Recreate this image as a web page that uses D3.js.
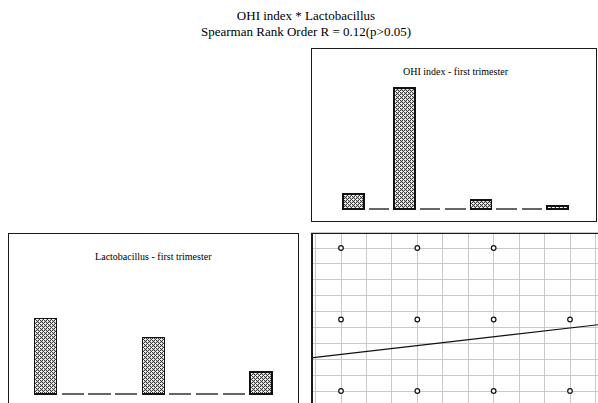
<!DOCTYPE html>
<html>
<head>
<meta charset="utf-8">
<script src="https://cdn.jsdelivr.net/npm/d3@7"></script>
<style>
body { margin: 0; background: #fff; }
text { font-family: "Liberation Serif", "Times New Roman", serif; fill: #000; }
</style>
</head>
<body>
<div id="chart"></div>
<script>
// histogram bins (9 per variable) and their counts
const bins = [1, 2, 3, 4, 5, 6, 7, 8, 9];
const ohiCounts = [5, 0, 40, 0, 0, 3, 0, 0, 1];
const lactoCounts = [24, 0, 0, 0, 18, 0, 0, 0, 7];

// scatter points: OHI index (x) vs Lactobacillus level (y)
const ohiVals   = [3, 6, 9, 3, 6, 9, 12, 3, 6, 9, 12];
const lactoVals = [4, 4, 4, 2.5, 2.5, 2.5, 2.5, 1, 1, 1, 1];

// linear fit drawn on the scatter
const fitSlope = 0.0617;
const fitIntercept = 1.582;

// grid ticks of the scatter
const xGrid = d3.range(1, 15);
const yGrid = d3.range(0, 16).map(k => k / 3);

const titles = ["OHI index * Lactobacillus", "Spearman Rank Order R = 0.12(p>0.05)"];

const svgWidth = 598;
const svgHeight = 403;

const svg = d3.select("#chart")
    .append("svg")
    .attr("width", svgWidth)
    .attr("height", svgHeight)
    .attr("shape-rendering", "crispEdges");

// dithered fill for the bars
const defs = svg.append("defs");
const pat = defs.append("pattern")
    .attr("id", "hatch")
    .attr("patternUnits", "userSpaceOnUse")
    .attr("width", 4)
    .attr("height", 4);
pat.append("rect").attr("width", 4).attr("height", 4).attr("fill", "#c4c4c4");
// dark pixels along one diagonal, light ones along the other
[[0, 0], [1, 1], [2, 2], [3, 3], [2, 0], [0, 2]].forEach(([px, py]) => {
    pat.append("rect").attr("x", px).attr("y", py).attr("width", 1).attr("height", 1).attr("fill", "#3a3a3a");
});
[[3, 1], [1, 3], [3, 0], [0, 3]].forEach(([px, py]) => {
    pat.append("rect").attr("x", px).attr("y", py).attr("width", 1).attr("height", 1).attr("fill", "#fafafa");
});

// panel frames
const panels = {
    top:     { x: 311, y: 48,  w: 285, h: 173 },
    left:    { x: 8,   y: 233, w: 290, h: 200 },
    scatter: { x: 311, y: 233, w: 310, h: 200 }
};

Object.entries(panels).forEach(([k, p]) => {
    defs.append("clipPath").attr("id", "clip-" + k)
        .append("rect").attr("x", p.x - 1).attr("y", p.y - 1).attr("width", p.w + 2).attr("height", p.h + 2);
});

// main titles
svg.selectAll(".title")
    .data(titles)
    .enter()
    .append("text")
    .attr("class", "title")
    .attr("x", 306)
    .attr("y", (d, i) => 20 + i * 16)
    .attr("text-anchor", "middle")
    .attr("font-size", 13)
    .text(d => d);

// draws one histogram panel
function histogram(p, counts, range, yRange, maxVal, label, clipId) {
    const g = svg.append("g").attr("clip-path", `url(#${clipId})`);
    g.append("rect")
        .attr("x", p.x + 0.5).attr("y", p.y + 0.5)
        .attr("width", p.w).attr("height", p.h)
        .attr("fill", "#fff").attr("stroke", "#1a1a1a").attr("stroke-width", 1);

    const x = d3.scaleBand()
        .domain(bins)
        .range(range)
        .paddingInner(0.18)
        .paddingOuter(0.09);
    const y = d3.scaleLinear()
        .domain([0, maxVal])
        .range(yRange);

    const data = bins.map((b, i) => ({ bin: b, n: counts[i] }));

    g.selectAll(".bar")
        .data(data.filter(d => d.n > 0))
        .enter()
        .append("rect")
        .attr("x", d => x(d.bin))
        .attr("y", d => y(d.n))
        .attr("width", x.bandwidth())
        .attr("height", d => y(0) - y(d.n))
        .attr("fill", "url(#hatch)")
        .attr("stroke", "#111")
        .attr("stroke-width", 1.3);

    // empty bins show as a flat line
    g.selectAll(".empty")
        .data(data.filter(d => d.n == 0))
        .enter()
        .append("line")
        .attr("x1", d => x(d.bin))
        .attr("x2", d => x(d.bin) + x.bandwidth())
        .attr("y1", y(0))
        .attr("y2", y(0))
        .attr("stroke", "#666")
        .attr("stroke-width", 1.5);

    g.append("text")
        .attr("x", (range[0] + range[1]) / 2)
        .attr("y", p.y + 27)
        .attr("text-anchor", "middle")
        .attr("font-size", 10)
        .text(label);
}

histogram(panels.top, ohiCounts, [340.75, 570.25], [209, 88], 40, "OHI index - first trimester", "clip-top");
histogram(panels.left, lactoCounts, [32.2, 274.4], [394, 318.5], 24, "Lactobacillus - first trimester", "clip-left");

// scatter panel
const sp = panels.scatter;
const sg = svg.append("g").attr("clip-path", "url(#clip-scatter)");

const xs = d3.scaleLinear().domain([3, 12]).range([341, 570]);
const ys = d3.scaleLinear().domain([1, 4]).range([391, 248]);

sg.append("rect")
    .attr("x", sp.x).attr("y", sp.y)
    .attr("width", sp.w).attr("height", sp.h)
    .attr("fill", "#fff");

sg.selectAll(".vgrid")
    .data(xGrid)
    .enter()
    .append("line")
    .attr("x1", d => xs(d)).attr("x2", d => xs(d))
    .attr("y1", sp.y).attr("y2", sp.y + sp.h)
    .attr("stroke", "#c8c8c8").attr("stroke-width", 1);

sg.selectAll(".hgrid")
    .data(yGrid)
    .enter()
    .append("line")
    .attr("x1", sp.x).attr("x2", sp.x + sp.w)
    .attr("y1", d => ys(d)).attr("y2", d => ys(d))
    .attr("stroke", "#c8c8c8").attr("stroke-width", 1);

// fit line across the whole panel
const x0 = xs.invert(sp.x), x1 = xs.invert(sp.x + sp.w);
sg.append("line")
    .attr("shape-rendering", "auto")
    .attr("x1", xs(x0)).attr("y1", ys(fitIntercept + fitSlope * x0))
    .attr("x2", xs(x1)).attr("y2", ys(fitIntercept + fitSlope * x1))
    .attr("stroke", "#111").attr("stroke-width", 1.2);

sg.selectAll(".pt")
    .data(ohiVals.map((v, i) => [v, lactoVals[i]]))
    .enter()
    .append("circle")
    .attr("shape-rendering", "auto")
    .attr("cx", d => xs(d[0]))
    .attr("cy", d => ys(d[1]))
    .attr("r", 2.3)
    .attr("fill", "#fff")
    .attr("stroke", "#111")
    .attr("stroke-width", 1.2);

// frame: top and left edges
sg.append("line")
    .attr("x1", sp.x).attr("x2", sp.x + sp.w)
    .attr("y1", sp.y + 0.5).attr("y2", sp.y + 0.5)
    .attr("stroke", "#1a1a1a").attr("stroke-width", 1);
sg.append("line")
    .attr("x1", sp.x + 0.5).attr("x2", sp.x + 0.5)
    .attr("y1", sp.y).attr("y2", sp.y + sp.h)
    .attr("stroke", "#1a1a1a").attr("stroke-width", 2);
</script>
</body>
</html>
